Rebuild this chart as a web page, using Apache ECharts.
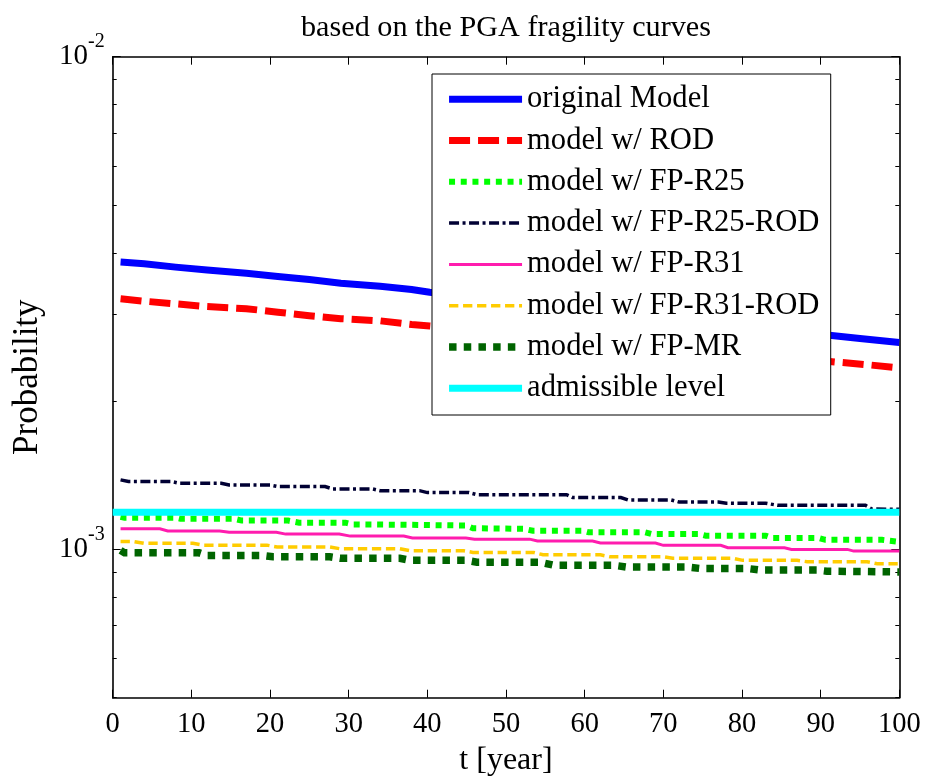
<!DOCTYPE html>
<html>
<head>
<meta charset="utf-8">
<script src="https://cdn.jsdelivr.net/npm/echarts@6/dist/echarts.min.js"></script>
<style>
  html, body { margin: 0; padding: 0; background: #ffffff; }
  #chart { width: 928px; height: 782px; }
</style>
</head>
<body>
<div id="chart"></div>
<script>
// Annual failure probability over service life, per retrofit variant.
// Each entry is [t in years, probability].
const originalModel = [
  [1, 3.83e-3], [4, 3.80e-3], [8, 3.74e-3], [12, 3.69e-3], [17, 3.635e-3],
  [21, 3.58e-3], [25, 3.53e-3], [29, 3.47e-3], [34, 3.42e-3], [38, 3.37e-3],
  [40.3, 3.325e-3], [91.4, 2.716e-3], [95, 2.68e-3], [100, 2.63e-3]
];
const modelROD = [
  [1, 3.226e-3], [4, 3.19e-3], [8, 3.15e-3], [12, 3.11e-3], [17, 3.08e-3],
  [21, 3.03e-3], [25, 2.98e-3], [29, 2.94e-3], [34, 2.91e-3], [38, 2.86e-3],
  [40.3, 2.84e-3], [92, 2.40e-3], [96, 2.37e-3], [100, 2.335e-3]
];
const modelFPR25 = [
  [1, 1.165e-3], [1.5, 1.16e-3], [8, 1.16e-3], [8.6, 1.154e-3], [15.4, 1.154e-3],
  [16.4, 1.144e-3], [22.3, 1.144e-3], [23.7, 1.133e-3], [29.6, 1.133e-3],
  [30.5, 1.124e-3], [37, 1.122e-3], [44.9, 1.118e-3], [45.8, 1.104e-3],
  [52.3, 1.101e-3], [53.4, 1.091e-3], [59.7, 1.091e-3], [60.5, 1.083e-3],
  [67.7, 1.083e-3], [68.6, 1.074e-3], [74.6, 1.074e-3], [75.4, 1.066e-3],
  [83, 1.066e-3], [83.9, 1.0544e-3], [89.8, 1.0544e-3], [90.6, 1.0455e-3],
  [97.8, 1.0455e-3], [100, 1.036e-3]
];
const modelFPR25ROD = [
  [1, 1.384e-3], [2, 1.373e-3], [7.5, 1.373e-3], [8.5, 1.362e-3], [13.8, 1.362e-3],
  [14.8, 1.351e-3], [20, 1.351e-3], [21, 1.341e-3], [27, 1.341e-3], [28, 1.3265e-3],
  [33, 1.3265e-3], [34, 1.316e-3], [39, 1.316e-3], [40, 1.304e-3], [45.3, 1.304e-3],
  [46.3, 1.2915e-3], [57.7, 1.2915e-3], [58.5, 1.274e-3], [64.6, 1.274e-3],
  [65.5, 1.26e-3], [71, 1.26e-3], [72, 1.248e-3], [77, 1.248e-3], [78, 1.241e-3],
  [83, 1.241e-3], [84.5, 1.229e-3], [95.7, 1.229e-3], [96.5, 1.208e-3], [100, 1.206e-3]
];
const modelFPR31 = [
  [1, 1.101e-3], [6, 1.101e-3], [7, 1.09e-3], [13.6, 1.09e-3], [14.8, 1.083e-3],
  [20.8, 1.083e-3], [22, 1.074e-3], [28.8, 1.074e-3], [30.2, 1.064e-3], [37, 1.064e-3],
  [38.1, 1.0544e-3], [44.9, 1.0544e-3], [46, 1.049e-3], [53, 1.049e-3], [54, 1.0397e-3],
  [61, 1.0397e-3], [62, 1.03e-3], [69, 1.03e-3], [70, 1.019e-3], [77.3, 1.019e-3],
  [78.2, 1.0076e-3], [85.4, 1.0076e-3], [86.3, 1.0e-3], [93.4, 1.0e-3],
  [94.2, 0.992e-3], [100, 0.992e-3]
];
const modelFPR31ROD = [
  [1, 1.038e-3], [2.6, 1.038e-3], [4, 1.0285e-3], [10.2, 1.0285e-3], [11.5, 1.020e-3],
  [19.6, 1.020e-3], [20.9, 1.011e-3], [27.6, 1.011e-3], [28.9, 1.003e-3], [36.5, 1.003e-3],
  [37.8, 0.9935e-3], [44.6, 0.9935e-3], [45.8, 0.986e-3], [53.5, 0.986e-3],
  [54.7, 0.975e-3], [62, 0.975e-3], [63.2, 0.966e-3], [70, 0.966e-3], [71.2, 0.959e-3],
  [78.9, 0.959e-3], [80.1, 0.950e-3], [87, 0.950e-3], [88.3, 0.944e-3], [95.9, 0.944e-3],
  [97.2, 0.935e-3], [100, 0.935e-3]
];
const modelFPMR = [
  [1, 0.9953e-3], [1.5, 0.984e-3], [11, 0.984e-3], [12, 0.972e-3], [19, 0.972e-3],
  [20.4, 0.966e-3], [27.6, 0.966e-3], [28.9, 0.959e-3], [36.5, 0.959e-3],
  [37.8, 0.950e-3], [45, 0.950e-3], [46.3, 0.942e-3], [54.3, 0.942e-3], [56, 0.929e-3],
  [63.6, 0.929e-3], [65.3, 0.921e-3], [73, 0.921e-3], [74.6, 0.915e-3], [80.6, 0.915e-3],
  [82.3, 0.908e-3], [89.5, 0.908e-3], [90.8, 0.903e-3], [100, 0.900e-3]
];
const admissibleLevel = [[0, 1.19e-3], [100, 1.19e-3]];

const seriesNames = [
  'original Model', 'model w/ ROD', 'model w/ FP-R25', 'model w/ FP-R25-ROD',
  'model w/ FP-R31', 'model w/ FP-R31-ROD', 'model w/ FP-MR', 'admissible level'
];
const seriesData = [
  originalModel, modelROD, modelFPR25, modelFPR25ROD,
  modelFPR31, modelFPR31ROD, modelFPMR, admissibleLevel
];

const xTicks = [0, 10, 20, 30, 40, 50, 60, 70, 80, 90, 100];
const yMajorTicks = [1e-3, 1e-2];
const yMinorTicks = [5e-4, 6e-4, 7e-4, 8e-4, 9e-4, 2e-3, 3e-3, 4e-3, 5e-3, 6e-3, 7e-3, 8e-3, 9e-3];

const FONT = '"Times New Roman", "Liberation Serif", serif';

const lineStyles = [
  { color: '#0000ff', width: 7, type: 'solid' },
  { color: '#ff0000', width: 7, type: [21, 8] },
  { color: '#00ff00', width: 6, type: [6, 5.7] },
  { color: '#000033', width: 3.5, type: [10, 3.5, 3, 3.5] },
  { color: '#ff1cae', width: 3, type: 'solid' },
  { color: '#ffcc00', width: 3.5, type: [9.3, 4.7] },
  { color: '#006400', width: 7.5, type: [7.5, 7.2] },
  { color: '#00ffff', width: 7, type: 'solid' }
];

const chart = echarts.init(document.getElementById('chart'), null, { renderer: 'canvas' });

const axisLineStyle = { color: '#000000', width: 1.6 };

const yBase = {
  type: 'log', logBase: 10, min: 5e-4, max: 1e-2,
  splitLine: { show: false }, minorTick: { show: false }
};

const option = {
  animation: false,
  backgroundColor: '#ffffff',
  title: {
    text: 'based on the PGA fragility curves',
    left: 506, top: 13, textAlign: 'center', padding: 0,
    textStyle: { fontFamily: FONT, fontSize: 30.2, fontWeight: 'normal', color: '#000000' }
  },
  grid: {
    left: 112.7, right: 28.7, top: 56.7, bottom: 84.3,
    containLabel: false, outerBoundsMode: 'none'
  },
  legend: {
    orient: 'vertical', left: 432, top: 74,
    padding: [9.7, 11.3, 11.2, 13.3],
    itemWidth: 73, itemHeight: 30, itemGap: 10.3,
    borderColor: '#000000', borderWidth: 1, backgroundColor: '#ffffff',
    selectedMode: false,
    textStyle: { fontFamily: FONT, fontSize: 30.6, color: '#000000', lineHeight: 30 },
    data: seriesNames.map((n, i) => ({
      name: n,
      itemStyle: { opacity: 0 },
      lineStyle: { color: lineStyles[i].color, width: lineStyles[i].width, type: lineStyles[i].type, opacity: 1 }
    }))
  },
  xAxis: [
    {
      type: 'value', position: 'bottom', min: 0, max: 100, interval: 10,
      name: 't [year]', nameLocation: 'middle', nameGap: 47,
      nameTextStyle: { fontFamily: FONT, fontSize: 32, color: '#000000' },
      axisLine: { show: true, lineStyle: axisLineStyle },
      axisTick: { show: true, inside: true, length: 8, lineStyle: { color: '#000000', width: 1 } },
      axisLabel: {
        show: true, margin: 12, color: '#000000', fontFamily: FONT, fontSize: 28.5,
        customValues: xTicks
      },
      splitLine: { show: false }
    },
    {
      type: 'value', position: 'top', min: 0, max: 100, interval: 10,
      axisLine: { show: true, lineStyle: axisLineStyle },
      axisTick: { show: true, inside: true, length: 8, lineStyle: { color: '#000000', width: 1 } },
      axisLabel: { show: false },
      splitLine: { show: false }
    }
  ],
  yAxis: [
    Object.assign({}, yBase, {
      position: 'left',
      name: 'Probability', nameLocation: 'middle', nameGap: 67,
      nameTextStyle: { fontFamily: FONT, fontSize: 35, color: '#000000' },
      axisLine: { show: true, lineStyle: axisLineStyle },
      axisTick: { show: true, inside: true, length: 8, customValues: yMajorTicks,
                  lineStyle: { color: '#000000', width: 1 } },
      axisLabel: {
        show: true, margin: 8, customValues: yMajorTicks,
        formatter: v => '{b|10}{s|' + Math.round(Math.log10(v)) + '}',
        rich: {
          b: { fontFamily: FONT, fontSize: 29, color: '#000000', lineHeight: 50 },
          s: { fontFamily: FONT, fontSize: 20, color: '#000000', lineHeight: 20, verticalAlign: 'top' }
        }
      }
    }),
    Object.assign({}, yBase, {
      position: 'left',
      axisLine: { show: false },
      axisTick: { show: true, inside: true, length: 4, customValues: yMinorTicks,
                  lineStyle: { color: '#000000', width: 1 } },
      axisLabel: { show: false }
    }),
    Object.assign({}, yBase, {
      position: 'right',
      axisLine: { show: true, lineStyle: axisLineStyle },
      axisTick: { show: true, inside: true, length: 8, customValues: yMajorTicks,
                  lineStyle: { color: '#000000', width: 1 } },
      axisLabel: { show: false }
    }),
    Object.assign({}, yBase, {
      position: 'right',
      axisLine: { show: false },
      axisTick: { show: true, inside: true, length: 4, customValues: yMinorTicks,
                  lineStyle: { color: '#000000', width: 1 } },
      axisLabel: { show: false }
    })
  ],
  series: seriesNames.map((n, i) => ({
    name: n,
    type: 'line',
    xAxisIndex: 0, yAxisIndex: 0,
    data: seriesData[i],
    symbol: 'none', showSymbol: false,
    clip: true,
    z: 2 + i * 0.01,
    lineStyle: { color: lineStyles[i].color, width: lineStyles[i].width, type: lineStyles[i].type, cap: 'butt', join: 'miter' },
    itemStyle: { color: lineStyles[i].color },
    emphasis: { disabled: true }
  }))
};

chart.setOption(option);
</script>
</body>
</html>
